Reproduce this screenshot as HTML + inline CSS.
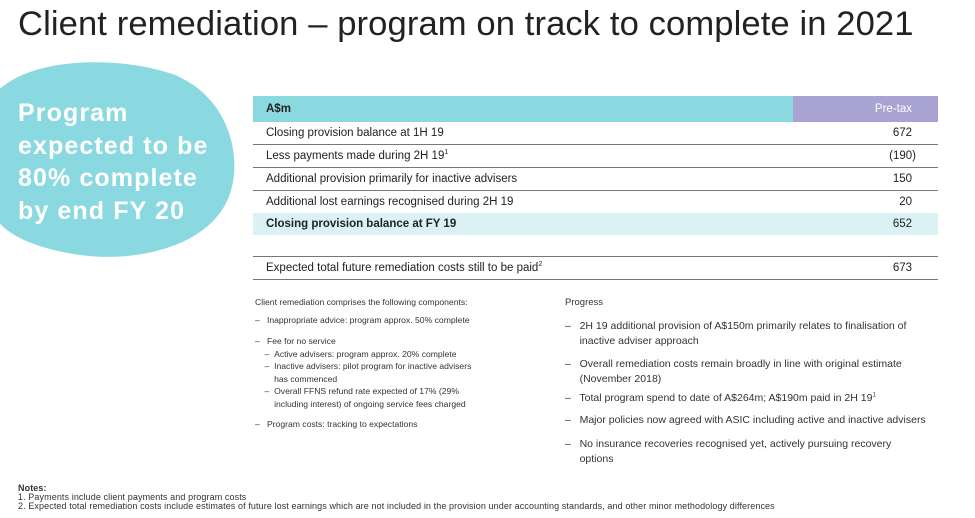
<!DOCTYPE html>
<html><head><style>
body{margin:0;width:975px;height:518px;background:#fff;position:relative;overflow:hidden;font-family:"Liberation Sans",sans-serif;color:#222}
.a{position:absolute;white-space:nowrap}
h1{position:absolute;left:18px;top:5px;margin:0;font-weight:normal;font-size:34.6px;color:#222;letter-spacing:0.1px}
.row{position:absolute;left:253px;width:685px;height:22px;border-bottom:1px solid #777;font-size:11.5px;line-height:22px}
.row span{position:absolute;left:13px}
.row b{position:absolute;right:26px;font-weight:normal}
sup{line-height:0;font-size:7px}
.s{font-size:9.5px;color:#333}
.l{font-size:8.6px}
.r{font-size:10.5px}
</style></head><body>
<h1>Client remediation – program on track to complete in 2021</h1>
<svg class="a" style="left:0;top:0" width="260" height="270"><path d="M-10 100 C20 55 120 55 175 75 C235 100 245 170 225 205 C200 250 130 262 80 255 C30 248 -10 230 -10 200 Z" fill="#8bd9e0"/></svg>
<div class="a" style="left:18px;top:97px;color:#fff;font-weight:bold;font-size:25px;letter-spacing:1.1px;line-height:32.5px">Program<br>expected to be<br>80% complete<br>by end FY 20</div>
<div class="a" style="left:253px;top:96px;width:540px;height:26px;background:#8bd9e0;font-size:11.5px;font-weight:bold;line-height:26px"><span style="margin-left:13px">A$m</span></div>
<div class="a" style="left:793px;top:96px;width:145px;height:26px;background:#a9a3d3;color:#fff;font-size:11.5px;line-height:26px;text-align:right"><span style="margin-right:26px">Pre-tax</span></div>
<div class="row" style="top:122px"><span>Closing provision balance at 1H 19</span><b>672</b></div>
<div class="row" style="top:145px"><span>Less payments made during 2H 19<sup>1</sup></span><b style="right:22px">(190)</b></div>
<div class="row" style="top:168px"><span>Additional provision primarily for inactive advisers</span><b>150</b></div>
<div class="row" style="top:191px;border-bottom:none"><span>Additional lost earnings recognised during 2H 19</span><b>20</b></div>
<div class="row" style="top:213px;background:#daf2f5;border-bottom:none;font-weight:bold"><span>Closing provision balance at FY 19</span><b>652</b></div>
<div class="a" style="left:253px;top:256px;width:685px;border-top:1px solid #777"></div>
<div class="row" style="top:257px"><span>Expected total future remediation costs still to be paid<sup>2</sup></span><b>673</b></div>
<div class="a s l" style="left:255px;top:296px;line-height:13px">Client remediation comprises the following components:</div>
<div class="a s l" style="left:255px;top:314px;line-height:13px">–&nbsp;&nbsp; Inappropriate advice: program approx. 50% complete</div>
<div class="a s l" style="left:255px;top:335px;line-height:12.6px">–&nbsp;&nbsp; Fee for no service<br>&nbsp;&nbsp;&nbsp;&nbsp;– &nbsp;Active advisers: program approx. 20% complete<br>&nbsp;&nbsp;&nbsp;&nbsp;– &nbsp;Inactive advisers: pilot program for inactive advisers<br>&nbsp;&nbsp;&nbsp;&nbsp;&nbsp;&nbsp;&nbsp;&nbsp;has commenced<br>&nbsp;&nbsp;&nbsp;&nbsp;– &nbsp;Overall FFNS refund rate expected of 17% (29%<br>&nbsp;&nbsp;&nbsp;&nbsp;&nbsp;&nbsp;&nbsp;&nbsp;including interest) of ongoing service fees charged</div>
<div class="a s l" style="left:255px;top:418px;line-height:13px">–&nbsp;&nbsp; Program costs: tracking to expectations</div>
<div class="a s" style="left:565px;top:296px;line-height:13px">Progress</div>
<div class="a s r" style="left:565px;top:319px;line-height:14.5px">–&nbsp;&nbsp; 2H 19 additional provision of A$150m primarily relates to finalisation of<br>&nbsp;&nbsp;&nbsp;&nbsp;&nbsp;inactive adviser approach</div>
<div class="a s r" style="left:565px;top:357px;line-height:14.5px">–&nbsp;&nbsp; Overall remediation costs remain broadly in line with original estimate<br>&nbsp;&nbsp;&nbsp;&nbsp;&nbsp;(November 2018)</div>
<div class="a s r" style="left:565px;top:392px;line-height:13px">–&nbsp;&nbsp; Total program spend to date of A$264m; A$190m paid in 2H 19<sup style="font-size:6px">1</sup></div>
<div class="a s r" style="left:565px;top:414px;line-height:13px">–&nbsp;&nbsp; Major policies now agreed with ASIC including active and inactive advisers</div>
<div class="a s r" style="left:565px;top:437px;line-height:14.5px">–&nbsp;&nbsp; No insurance recoveries recognised yet, actively pursuing recovery<br>&nbsp;&nbsp;&nbsp;&nbsp;&nbsp;options</div>
<div class="a" style="left:18px;top:484px;font-size:9px;letter-spacing:0.1px;line-height:9px;color:#333"><b>Notes:</b><br>1. Payments include client payments and program costs<br>2. Expected total remediation costs include estimates of future lost earnings which are not included in the provision under accounting standards, and other minor methodology differences</div>
</body></html>
